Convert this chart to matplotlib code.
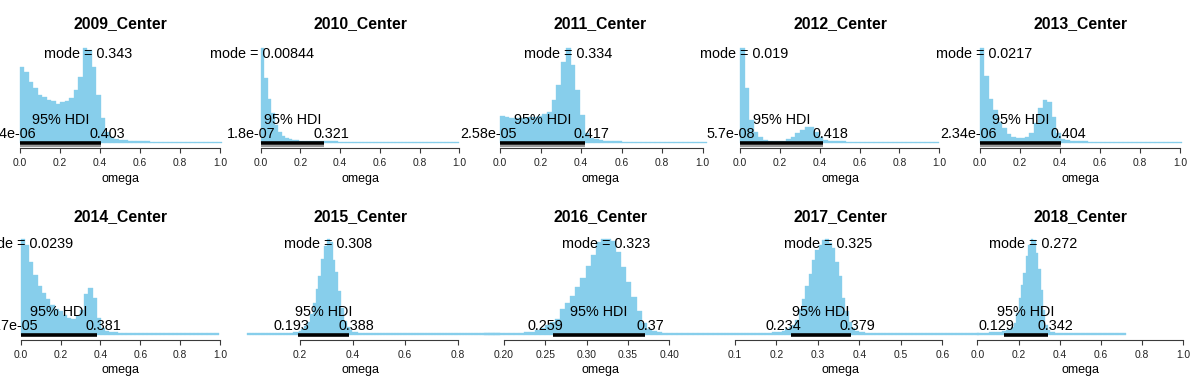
import matplotlib
matplotlib.use('Agg')
import matplotlib.pyplot as plt

plt.rcParams['font.family'] = ['Liberation Sans', 'DejaVu Sans']

# ---------------- data ----------------
titles = ['2009_Center', '2010_Center', '2011_Center', '2012_Center', '2013_Center',
          '2014_Center', '2015_Center', '2016_Center', '2017_Center', '2018_Center']

bin_starts = [0.0, 0.0, 0.0, 0.0, 0.0, 0.0, 0.0, 0.1753, 0.06, 0.0]
bin_widths = [0.0224, 0.0178, 0.0232, 0.0232, 0.0224, 0.0212, 0.0108, 0.00617, 0.00806, 0.0118]

h_2009 = [230, 215, 185, 165, 145, 138, 130, 127, 118, 125, 128, 135, 160, 198, 287, 280,
          230, 145, 75, 35, 20, 14, 11, 9, 8, 7, 6, 6, 6, 5, 5, 5, 5, 5, 5, 5, 4.5, 4.5, 4.5,
          4.5, 4.5, 4.5, 4, 4, 4]
h_2010 = [287, 195, 132, 90, 55, 35, 22, 16, 12, 10, 9, 8, 7, 7, 6, 6, 6, 6, 5.5, 5.5, 5.5,
          5.5, 5, 5, 5, 5, 5, 4.5, 4.5, 4.5, 4.5, 4.5, 4.5, 4.5, 4.5, 4, 4, 4, 4, 4, 4, 4, 4,
          4, 4, 4, 4, 4, 4, 4, 4, 4, 4, 4, 4, 4]
h_2011 = [82, 80, 77, 76, 76, 77, 78, 80, 82, 88, 95, 130, 175, 245, 287, 235, 160, 85, 30,
          16, 12, 9, 8, 7, 6, 6, 5, 5, 5, 5, 4.5, 4.5, 4.5, 4.5, 4.5, 4, 4, 4, 4, 4, 4, 4, 4, 4]
h_2012 = [287, 165, 70, 35, 18, 11, 8, 7, 7, 8, 12, 20, 30, 40, 50, 48, 35, 18, 10, 8, 7, 6,
          6, 5, 5, 5, 5, 4.5, 4.5, 4.5, 4.5, 4.5, 4, 4, 4, 4, 4, 4, 4, 4, 4, 4, 4]
h_2013 = [287, 202, 134, 100, 65, 45, 27, 20, 15, 15, 20, 30, 60, 105, 130, 125, 80, 30, 14,
          9, 8, 7, 6, 6, 5, 5, 5, 5, 4.5, 4.5, 4.5, 4.5, 4.5, 4, 4, 4, 4, 4, 4, 4, 4, 4, 4, 4, 4]
h_2014 = [289, 271, 221, 181, 146, 126, 108, 91, 78, 71, 61, 51, 48, 56, 76, 124, 141, 111,
          51, 21, 12, 9, 7, 6, 6, 5, 5, 5, 5, 4.5, 4.5, 4.5, 4.5, 4.5, 4.5, 4, 4, 4, 4, 4, 4,
          4, 4, 4, 4, 4, 4]
h_2015 = [4, 4, 4, 4, 4, 4, 4, 4.5, 4.5, 4.5, 4.5, 5, 5, 5, 5.5,
          6, 7, 9, 12, 18, 25, 38, 60, 95, 135, 175, 225, 262, 283, 275, 220, 185, 130, 80,
          40, 22, 13, 9, 7, 6, 6,
          5.5, 5.5, 5, 5, 5, 5, 4.5, 4.5, 4.5, 4.5, 4.5, 4.5, 4.5, 4.5, 4, 4, 4, 4, 4, 4, 4,
          4, 4, 4, 4, 4, 4, 4, 4, 4, 4, 4, 4, 4, 4, 4, 4, 4, 4, 4, 4, 4, 4, 4, 4, 4, 4, 4]
h_2016 = [4, 4, 4.5, 4.5,
          5, 5, 5.5, 6, 7, 9, 14, 20, 28, 37, 48, 75, 95, 115, 140, 168, 203, 236, 273, 283,
          283, 278, 245, 200, 155, 112, 70, 35, 18, 10, 7, 6, 5, 4.5,
          4.5, 4, 4, 4, 4, 4, 4, 4]
h_2017 = [4, 4, 4, 4, 4, 4, 4, 4, 4.5, 4.5, 4.5, 5, 5, 5,
          6, 6, 7, 8, 9, 12, 16, 22, 30, 45, 75, 105, 145, 180, 220, 250, 265, 280, 283, 270,
          255, 215, 175, 108, 70, 38, 20, 12, 8, 7, 6, 5,
          5, 5, 4.5, 4.5, 4.5, 4.5, 4.5, 4.5, 4.5, 4.5, 4, 4, 4, 4, 4, 4, 4, 4, 4, 4, 4, 4,
          4, 4, 4, 4, 4, 4, 4, 4, 4, 4]
h_2018 = [5, 5, 6, 6, 6, 7, 7, 8, 8, 9, 10, 12, 14, 17, 22, 35, 65, 110, 150, 185, 235, 268,
          286, 283, 245, 195, 135, 75, 30, 14, 9, 7, 6, 6, 6, 5, 5, 5, 5, 4.5, 4.5, 4.5, 4.5,
          4.5, 4.5, 4, 4, 4, 4, 4, 4, 4, 4, 4, 4, 4, 4, 4, 4, 4, 4]
heights = [h_2009, h_2010, h_2011, h_2012, h_2013, h_2014, h_2015, h_2016, h_2017, h_2018]

modes = [0.343, 0.00844, 0.334, 0.019, 0.0217, 0.0239, 0.308, 0.323, 0.325, 0.272]
mode_labels = ['0.343', '0.00844', '0.334', '0.019', '0.0217', '0.0239', '0.308', '0.323',
               '0.325', '0.272']
hdi_low = [1.74e-06, 1.8e-07, 2.58e-05, 5.7e-08, 2.34e-06, 2.17e-05, 0.193, 0.259, 0.234, 0.129]
hdi_low_labels = ['1.74e-06', '1.8e-07', '2.58e-05', '5.7e-08', '2.34e-06', '2.17e-05',
                  '0.193', '0.259', '0.234', '0.129']
hdi_high = [0.403, 0.321, 0.417, 0.418, 0.404, 0.381, 0.388, 0.37, 0.379, 0.342]
hdi_high_labels = ['0.403', '0.321', '0.417', '0.418', '0.404', '0.381', '0.388', '0.37',
                   '0.379', '0.342']

ticks_std = [0.0, 0.2, 0.4, 0.6, 0.8, 1.0]
ticks_std_labels = ['0.0', '0.2', '0.4', '0.6', '0.8', '1.0']
ticks_2015 = [0.2, 0.4, 0.6, 0.8]
ticks_2015_labels = ['0.2', '0.4', '0.6', '0.8']
ticks_2016 = [0.20, 0.25, 0.30, 0.35, 0.40]
ticks_2016_labels = ['0.20', '0.25', '0.30', '0.35', '0.40']
ticks_2017 = [0.1, 0.2, 0.3, 0.4, 0.5, 0.6]
ticks_2017_labels = ['0.1', '0.2', '0.3', '0.4', '0.5', '0.6']
ticks = [ticks_std] * 6 + [ticks_2015, ticks_2016, ticks_2017, ticks_std]
tick_labels = [ticks_std_labels] * 6 + [ticks_2015_labels, ticks_2016_labels,
                                        ticks_2017_labels, ticks_std_labels]
xlabel = 'omega'
cred_label = '95% HDI'

# ---------------- layout ----------------
W, H = 1199, 383
tick_px = [(20, 220), (260.5, 459.5), (500, 702.7), (740, 939.3), (980, 1180),
           (20.7, 220), (300, 457.7), (504, 669.3), (735, 942.3), (977.3, 1183.3)]
row_base = [143.3, 334.8]
row_axh = [95.6, 95.8]
row_title_y = [28.3, 220.6]
row_xlab_y = [182, 373]
row_mode_off = [85.4, 86.3]
PT = 0.72  # points per pixel at 100 dpi

BAR = '#87CEEB'
AXC = '#3a3a3a'
TXT = 10.4

fig = plt.figure(figsize=(W / 100, H / 100), dpi=100)
lim_labels = []

for k in range(10):
    row, col = divmod(k, 5)
    base = row_base[row]
    axh = row_axh[row]
    p0, p1 = tick_px[k]
    ax = fig.add_axes([p0 / W, 1 - base / H, (p1 - p0) / W, axh / H])
    ax.patch.set_visible(False)
    t = ticks[k]
    ax.set_xlim(t[0], t[-1])
    h = heights[k]
    ymax = max(h)
    ax.set_ylim(0, ymax)
    w = bin_widths[k]
    lefts = [bin_starts[k] + i * w for i in range(len(h))]
    ax.bar(lefts, h, width=w, align='edge', color=BAR, edgecolor=BAR,
           linewidth=0.25, clip_on=False, zorder=1)

    # HDI bar
    if row == 0:
        gy = -2.8 * ymax / axh
        ax.plot([hdi_low[k], hdi_high[k]], [gy, gy], color='#9a9a9a', lw=1.5,
                solid_capstyle='butt', clip_on=False, zorder=2)
    ax.plot([hdi_low[k], hdi_high[k]], [0, 0], color='black', lw=2.6,
            solid_capstyle='butt', clip_on=False, zorder=3)

    # axis
    for s in ['top', 'left', 'right']:
        ax.spines[s].set_visible(False)
    ax.spines['bottom'].set_position(('outward', 3.4))
    ax.spines['bottom'].set_bounds(t[0], t[-1])
    ax.spines['bottom'].set_color(AXC)
    ax.spines['bottom'].set_linewidth(0.8)
    ax.set_yticks([])
    ax.set_xticks(t)
    ax.tick_params(axis='x', direction='out', length=3.6, width=0.8, color=AXC,
                   labelbottom=False)
    for tv, tl in zip(t, tick_labels[k]):
        ax.annotate(tl, xy=(tv, 0), xycoords=('data', 'axes fraction'),
                    xytext=(0, -22.8 * PT), textcoords='offset points',
                    ha='center', va='baseline', fontsize=7.4, color='#222222',
                    annotation_clip=False)

    # texts
    ax.annotate('mode = ' + mode_labels[k], xy=(modes[k], 0),
                xycoords=('data', 'axes fraction'),
                xytext=(0, row_mode_off[row] * PT), textcoords='offset points',
                ha='center', va='baseline', fontsize=TXT, annotation_clip=False, zorder=5)
    ax.annotate(cred_label, xy=((hdi_low[k] + hdi_high[k]) / 2, 0),
                xycoords=('data', 'axes fraction'),
                xytext=(0, 18.8 * PT), textcoords='offset points',
                ha='center', va='baseline', fontsize=TXT, annotation_clip=False, zorder=5)
    a1 = ax.annotate(hdi_low_labels[k], xy=(hdi_low[k], 0),
                     xycoords=('data', 'axes fraction'),
                     xytext=(0, 5.2 * PT), textcoords='offset points',
                     ha='center', va='baseline', fontsize=TXT, annotation_clip=False, zorder=5)
    a2 = ax.annotate(hdi_high_labels[k], xy=(hdi_high[k], 0),
                     xycoords=('data', 'axes fraction'),
                     xytext=(0, 5.2 * PT), textcoords='offset points',
                     ha='center', va='baseline', fontsize=TXT, annotation_clip=False, zorder=5)
    lim_labels.append((a1, -0.2))
    lim_labels.append((a2, 0.2))

    cx = col * 240 + 120
    fig.text(cx / W, 1 - row_title_y[row] / H, titles[k], ha='center', va='baseline',
             fontsize=11.3, fontweight='bold')
    fig.text(cx / W, 1 - row_xlab_y[row] / H, xlabel, ha='center', va='baseline',
             fontsize=9)

fig.canvas.draw()
renderer = fig.canvas.get_renderer()
for a, frac in lim_labels:
    wpx = a.get_window_extent(renderer).width
    dx, dy = a.xyann
    a.xyann = (frac * wpx * PT, dy)

fig.savefig('out.png', dpi=100)
